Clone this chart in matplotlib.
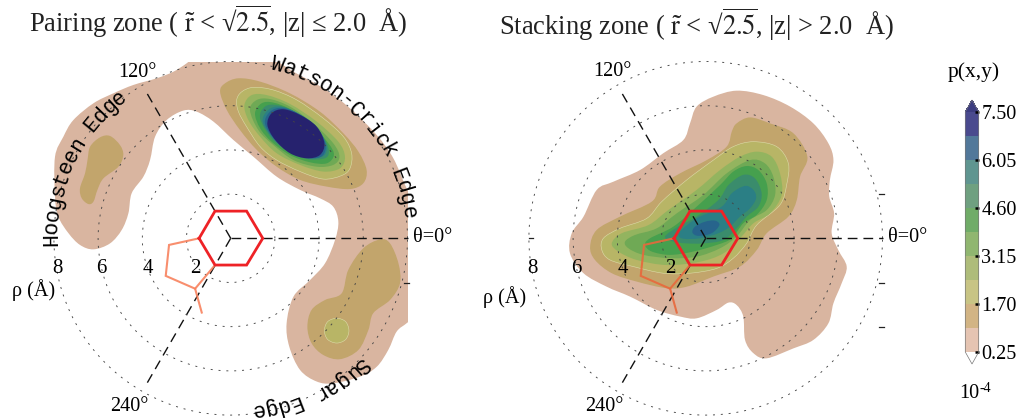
import numpy as np
import matplotlib
matplotlib.use('Agg')
import matplotlib.pyplot as plt
from matplotlib.path import Path
from matplotlib.patches import PathPatch
from matplotlib.colors import ListedColormap, BoundaryNorm
from matplotlib.cm import ScalarMappable

plt.rcParams['font.family'] = ['Liberation Serif', 'DejaVu Serif']
plt.rcParams['mathtext.fontset'] = 'stix'

# contour outlines, x,y in angstrom
pair_l1 = [(-1.39,8.37),(0.12,8.67),(1.48,8.37),(2.84,7.54),(4.19,6.79),(5.40,5.88),(6.61,4.67),(7.36,3.62),
           (7.96,2.26),(8.64,0.98),(8.94,-1.28),(8.64,-3.24),(7.99,-3.82),(7.51,-4.22),(7.13,-5.05),(6.61,-5.81),
           (5.85,-6.26),(4.64,-6.56),(3.89,-6.48),(3.14,-5.96),(2.65,-4.90),(2.53,-3.85),(2.84,-2.64),(3.59,-1.89),
           (4.27,-1.13),(4.72,-0.08),(4.87,0.75),(4.64,1.43),(4.04,1.81),(3.14,2.19),(2.08,2.79),(1.03,3.69),
           (0.12,4.45),(-0.78,5.28),(-1.54,5.73),(-2.14,5.78),(-2.90,5.35),(-3.42,4.60),(-3.65,3.54),(-3.95,2.79),
           (-4.48,2.04),(-4.63,1.13),(-4.93,0.38),(-5.46,-0.23),(-6.21,-0.50),(-6.82,-0.30),(-7.34,0.23),(-7.80,0.98),
           (-7.95,1.89),(-7.95,3.69),(-7.57,4.60),(-7.12,5.35),(-6.21,6.11),(-5.31,6.56),(-4.40,6.94),(-3.35,7.24),
           (-2.59,7.54),(-1.99,7.92)]
pair_wc2 = [(-0.48,6.63),(-0.26,7.01),(0.35,7.24),(1.33,7.09),(2.68,6.56),(4.04,5.73),(5.10,4.75),(5.78,3.92),
            (6.15,3.09),(6.00,2.49),(5.40,2.23),(4.34,2.34),(3.14,2.64),(2.08,3.24),(1.18,4.00),(0.42,4.90),(-0.18,5.81)]
pair_hg2 = [(-6.36,4.15),(-5.91,4.57),(-5.46,4.63),(-5.01,4.22),(-4.86,3.77),(-5.08,3.24),(-5.76,2.71),(-6.03,2.19),
            (-6.21,1.66),(-6.44,1.55),(-6.74,1.81),(-6.82,2.26),(-6.59,2.94),(-6.48,3.54)]
pair_su2 = [(6.76,-0.05),(7.21,-0.23),(7.59,-1.13),(7.66,-2.04),(7.21,-2.79),(6.45,-3.39),(6.23,-4.15),(5.78,-5.05),
            (4.95,-5.47),(4.19,-5.28),(3.66,-4.75),(3.47,-4.00),(3.66,-3.24),(4.27,-2.79),(5.02,-2.49),(5.32,-1.43),(6.00,-0.45)]
pair_su3 = [(4.80,-3.62),(5.20,-3.77),(5.35,-4.18),(5.20,-4.58),(4.80,-4.74),(4.39,-4.58),(4.24,-4.18),(4.39,-3.77)]
pair_wc3 = [(0.27,6.26),(0.50,6.63),(1.03,6.83),(1.93,6.71),(2.99,6.26),(4.19,5.43),(5.10,4.60),(5.47,3.85),
            (5.40,3.17),(5.02,2.84),(4.19,2.68),(3.14,3.02),(2.08,3.54),(1.33,4.15),(0.72,5.05),(0.35,5.73)]
pair_wc4 = [(0.62,6.03),(0.95,6.48),(1.63,6.48),(2.68,6.08),(3.89,5.28),(4.87,4.37),(5.17,3.69),(4.95,3.17),
            (4.19,3.02),(3.14,3.32),(2.08,3.85),(1.33,4.60),(0.80,5.35)]
pair_wc5 = [(0.87,5.81),(1.18,6.26),(1.78,6.30),(2.68,5.96),(3.74,5.20),(4.64,4.30),(4.92,3.69),(4.64,3.32),
            (3.89,3.24),(2.84,3.54),(1.93,4.22),(1.25,4.90)]
pair_wc6 = [(1.10,5.66),(1.40,6.11),(1.93,6.14),(2.76,5.81),(3.66,5.13),(4.42,4.30),(4.67,3.77),(4.34,3.39),
            (3.59,3.44),(2.68,3.77),(1.85,4.37),(1.33,4.98)]
pair_wc7 = [(1.33,5.43),(1.55,5.96),(2.08,6.03),(2.84,5.76),(3.74,5.13),(4.34,4.30),(4.42,3.77),(4.12,3.59),
            (3.44,3.59),(2.61,3.92),(1.85,4.52)]
pair_wc8 = [(1.45,5.28),(1.70,5.81),(2.23,5.96),(2.96,5.70),(3.82,5.10),(4.31,4.30),(4.27,3.80),(3.89,3.65),
            (3.29,3.66),(2.61,4.00),(1.93,4.52)]
pair_wc9 = [(1.55,5.20),(1.78,5.73),(2.31,5.90),(3.06,5.64),(3.86,5.08),(4.28,4.30),(4.16,3.74),(3.59,3.62),
            (2.84,3.85),(2.01,4.45)]
pair_wc10 = [(1.66,5.13),(1.85,5.66),(2.38,5.84),(3.14,5.58),(3.89,5.05),(4.24,4.30),(4.04,3.77),(3.44,3.62),
             (2.68,3.85),(2.01,4.45)]

stack_l1 = [(1.40,6.68),(2.61,6.48),(3.82,5.96),(4.87,5.20),(5.55,4.30),(5.78,3.54),(5.62,2.64),(5.59,1.89),
            (5.81,1.13),(5.70,0.23),(6.00,-0.53),(6.38,-1.28),(6.15,-2.04),(5.78,-2.94),(5.55,-3.85),(4.87,-4.60),
            (3.97,-4.98),(2.76,-5.43),(2.16,-5.20),(1.78,-4.60),(1.70,-3.54),(1.40,-3.02),(1.03,-2.91),(0.50,-3.24),
            (-0.41,-3.62),(-1.16,-3.54),(-2.22,-3.24),(-3.42,-2.64),(-4.48,-2.19),(-5.53,-1.58),(-6.14,-0.68),(-6.06,0.23),
            (-5.53,0.98),(-4.93,2.19),(-4.18,2.56),(-2.97,3.09),(-1.92,3.85),(-1.01,4.45),(-0.71,5.20),(-0.41,5.96),(0.35,6.41)]
stack_l2 = [(1.40,5.20),(2.01,5.47),(2.91,5.20),(3.97,4.75),(4.60,3.69),(4.27,2.79),(4.12,1.73),(3.74,0.98),
            (2.76,0.23),(2.31,-0.53),(1.55,-1.28),(0.35,-1.73),(-0.86,-2.19),(-1.76,-2.26),(-3.12,-1.96),(-4.25,-1.58),
            (-5.01,-0.98),(-5.23,-0.38),(-4.93,0.38),(-3.88,0.98),(-2.44,1.66),(-2.07,2.34),(-1.16,2.94),(0.05,3.54),
            (0.95,4.15),(1.18,4.83)]
stack_l3 = [(2.16,4.37),(3.21,4.15),(3.74,3.39),(3.66,2.41),(3.36,1.51),(2.31,0.60),(1.85,-0.23),(1.25,-0.90),
            (0.50,-1.36),(-0.71,-1.58),(-1.92,-1.58),(-3.27,-1.28),(-4.33,-0.98),(-4.70,-0.53),(-4.63,0.0),(-3.88,0.45),
            (-2.67,0.90),(-1.99,1.66),(-0.86,2.64),(0.35,3.54),(1.25,4.15)]
stack_l4 = [(2.31,3.92),(2.99,3.69),(3.36,2.94),(3.44,1.96),(2.91,1.13),(2.16,0.68),(1.55,0.0),(0.80,-0.68),
            (-0.26,-1.06),(-1.76,-1.21),(-3.12,-0.98),(-3.95,-0.60),(-4.25,-0.23),(-3.80,0.23),(-2.59,0.60),(-1.69,1.28),
            (-0.41,2.19),(0.65,3.09),(1.55,3.69)]
stack_l5 = [(2.01,3.54),(2.68,3.39),(3.06,2.79),(3.14,1.96),(2.76,1.28),(2.01,0.83),(1.40,0.08),(0.65,-0.45),
            (-0.41,-0.83),(-1.61,-0.90),(-2.82,-0.75),(-3.50,-0.45),(-3.65,-0.15),(-3.20,0.15),(-2.22,0.45),(-1.31,1.13),
            (-0.11,1.96),(0.95,2.94)]
stack_l6 = [(1.85,3.27),(2.38,3.09),(2.76,2.49),(2.76,1.73),(2.31,1.06),(1.70,0.68),(1.18,0.0),(0.50,-0.30),
            (-0.56,-0.60),(-1.61,-0.75),(-2.44,-0.60),(-2.74,-0.30),(-2.52,0.0),(-1.46,0.53),(-0.41,1.43),(0.65,2.41),(1.25,3.02)]
stack_l7 = [(1.70,2.87),(2.23,2.71),(2.53,2.04),(2.38,1.43),(1.85,0.98),(1.40,0.45),(0.80,-0.08),(-0.11,-0.23),
            (-0.86,-0.23),(-1.46,-0.15),(-1.84,0.08),(-1.24,0.53),(-0.41,0.98),(0.57,1.73),(1.03,2.41)]
stack_l8 = [(1.78,2.37),(2.16,2.19),(2.28,1.81),(2.01,1.36),(1.55,0.98),(1.10,0.53),(0.57,0.23),(-0.26,0.0),
            (-1.09,0.0),(-1.16,0.30),(-0.41,0.90),(0.72,1.43),(1.18,2.04)]
stack_l9 = [(0.42,0.80),(0.62,0.60),(0.27,0.23),(-0.33,0.11),(-0.60,0.26),(-0.48,0.53),(-0.03,0.75)]

# base rings
hexagon = [(-1.43,0.0),(-0.71,1.23),(0.72,1.23),(1.45,0.0),(0.72,-1.21),(-0.71,-1.21)]
pentagon = [(-1.43,0.0),(-2.79,-0.30),(-2.94,-1.70),(-1.61,-2.28),(-0.71,-1.21)]
glyco_bond = [(-1.61,-2.28),(-1.31,-3.36)]

rho_rings = [2, 4, 6, 8]
ray_angles = [0, 120, 240]
ray_lengths = [8.0, 7.65, 7.65]
rho_labels = ['2', '4', '6', '8']
rho_label_x = [-1.61, -3.73, -5.84, -7.83]
edge_stubs = [(8.0, -2.0)]
stack_stubs = [(8.0, 2.0), (8.0, -2.0), (8.0, -4.0), (-8.0, 0.0)]

levels = [0.25, 0.975, 1.70, 2.425, 3.15, 3.875, 4.60, 5.325, 6.05, 6.775, 7.50]
cbar_ticks = [0.25, 1.70, 3.15, 4.60, 6.05, 7.50]
plot_colors = ['#d9b5a0', '#c2a56c', '#b8b566', '#93b45f', '#6fa955', '#46a04e', '#3a8c6c', '#2b7f85', '#27648c', '#26226e']
cbar_colors = ['#e5c4b2', '#d2b484', '#c8c484', '#aebc7a', '#90b670', '#70ac68', '#6fa080', '#5f9590', '#52789a', '#4a4a8e']

W, H = 1016, 418
SCALE = 22.1
LIGHT_EDGE = '#dcdcaa'


def smooth_path(pts):
    # closed catmull-rom through the traced points
    p = np.array(pts, dtype=float)
    n = len(p)
    verts = [p[0]]
    codes = [Path.MOVETO]
    for i in range(n):
        p0, p1, p2, p3 = p[i-1], p[i], p[(i+1) % n], p[(i+2) % n]
        verts += [p1 + (p2-p0)/6, p2 - (p3-p1)/6, p2]
        codes += [Path.CURVE4]*3
    return Path(verts, codes)


def fill(ax, pts, level, edge=None):
    ax.add_patch(PathPatch(smooth_path(pts), facecolor=plot_colors[level-1],
                           edgecolor=edge if edge else 'none', lw=0.4 if edge else 0, zorder=level))


def make_axes(fig, cx, cy):
    half = 8*SCALE
    ax = fig.add_axes([(cx-half)/W, (H-cy-half)/H, 2*half/W, 2*half/H])
    ax.set_xlim(-8, 8)
    ax.set_ylim(-8, 8)
    ax.axis('off')
    return ax


def frame(ax, pent_color):
    t = np.radians(np.arange(0, 361, 2))
    for r in rho_rings:
        ax.plot(r*np.cos(t), r*np.sin(t), color='#444444', lw=0.65, ls=(0, (2.2, 6.5)), clip_on=False, zorder=20)
    for a, length in zip(ray_angles, ray_lengths):
        ax.plot([0, length*np.cos(np.radians(a))], [0, length*np.sin(np.radians(a))],
                color='#111111', lw=1.0, ls=(0, (7, 4.3)), clip_on=False, zorder=21)
    px, py = zip(*pentagon)
    ax.plot(px, py, color=pent_color, lw=1.5, alpha=0.9, zorder=22, solid_joinstyle='miter')
    bx, by = zip(*glyco_bond)
    ax.plot(bx, by, color=pent_color, lw=1.5, alpha=0.9, zorder=22)
    hx, hy = zip(*(hexagon + hexagon[:1]))
    ax.plot(hx, hy, color='#ee2226', lw=2.0, zorder=23, solid_joinstyle='miter')
    for s, x in zip(rho_labels, rho_label_x):
        ax.text(x, -1.36, s, fontsize=15, ha='center', va='center', zorder=30, clip_on=False)


def arc_text(ax, s, start, step=4.15, r=8.1, r_end=None):
    # one letter at a time, clockwise, tops facing out
    if r_end is None:
        r_end = r
    for i, ch in enumerate(s):
        a = start - i*step
        ri = r + (r_end-r)*i/(len(s)-1)
        ax.text(ri*np.cos(np.radians(a)), ri*np.sin(np.radians(a)), ch, family='Liberation Mono', fontsize=15.5,
                rotation=a-90, rotation_mode='anchor', ha='center', va='center', zorder=30, clip_on=False)


def stubs(ax, items):
    for x, y in items:
        ax.plot([x-0.15, x+0.05] if x > 0 else [x, x+0.2], [y, y], color='#222222', lw=0.9, clip_on=False, zorder=21)


def main():
    fig = plt.figure(figsize=(W/100, H/100), dpi=100)

    ax = make_axes(fig, 230.7, 238.3)
    fill(ax, pair_l1, 1)
    for pts in [pair_wc2, pair_hg2, pair_su2]:
        fill(ax, pts, 2)
    fill(ax, pair_su3, 3, LIGHT_EDGE)
    fill(ax, pair_wc3, 3, LIGHT_EDGE)
    for i, pts in enumerate([pair_wc4, pair_wc5, pair_wc6, pair_wc7, pair_wc8, pair_wc9, pair_wc10]):
        fill(ax, pts, i+4)
    frame(ax, '#f8825e')
    stubs(ax, edge_stubs)
    arc_text(ax, 'Watson-Crick Edge', 74.8)
    arc_text(ax, 'Hoogsteen Edge', 180.5, step=4.0)
    arc_text(ax, 'Sugar Edge', -44.0, r=8.2, r_end=7.82)
    ax.text(8.27, 0.05, 'θ=0°', fontsize=14.5, ha='left', va='center', clip_on=False)
    ax.text(-4.21, 7.51, '120°', fontsize=14.5, ha='center', va='center', clip_on=False)
    ax.text(-4.59, -7.62, '240°', fontsize=14.5, ha='center', va='center', clip_on=False)
    ax.text(-8.93, -2.34, 'ρ (Å)', fontsize=14.5, ha='center', va='center', clip_on=False)

    ax2 = make_axes(fig, 705.7, 238.3)
    for i, pts in enumerate([stack_l1, stack_l2, stack_l3, stack_l4, stack_l5, stack_l6, stack_l7, stack_l8, stack_l9]):
        fill(ax2, pts, i+1, LIGHT_EDGE if i == 2 else None)
    frame(ax2, '#e8683c')
    stubs(ax2, stack_stubs)
    ax2.text(8.27, 0.05, 'θ=0°', fontsize=14.5, ha='left', va='center', clip_on=False)
    ax2.text(-4.21, 7.54, '120°', fontsize=14.5, ha='center', va='center', clip_on=False)
    ax2.text(-4.59, -7.6, '240°', fontsize=14.5, ha='center', va='center', clip_on=False)
    ax2.text(-9.08, -2.68, 'ρ (Å)', fontsize=14.5, ha='center', va='center', clip_on=False)

    fig.text(29/W, 1-22/H, 'Pairing zone ( $\\tilde{\\mathrm{r}}$ < √$\\overline{\\mathrm{2.5}}$, |z| ≤ 2.0  Å)',
             fontsize=19.1, va='center', ha='left', color='#222222')
    fig.text(499/W, 1-25/H, 'Stacking zone ( $\\tilde{\\mathrm{r}}$ < √$\\overline{\\mathrm{2.5}}$, |z| > 2.0  Å)',
             fontsize=19.1, va='center', ha='left', color='#222222')

    # colorbar
    cax = fig.add_axes([965.3/W, (H-364)/H, 13.4/W, 264/H])
    cmap = ListedColormap(cbar_colors)
    cmap.set_over('#3c3c80')
    cmap.set_under('white')
    norm = BoundaryNorm(levels, cmap.N, clip=False)
    cb = fig.colorbar(ScalarMappable(norm=norm, cmap=cmap), cax=cax, extend='both', extendfrac=0.05,
                      spacing='proportional', ticks=cbar_ticks, drawedges=False)
    cb.outline.set_linewidth(0.5)
    cb.outline.set_edgecolor('#777777')
    cb.ax.minorticks_off()
    cb.ax.tick_params(axis='y', direction='in', length=3, width=1.8, pad=2, labelsize=14.5, color='black')
    cb.ax.set_yticklabels(['%.2f' % v for v in cbar_ticks])
    fig.text(974/W, 1-72/H, 'p(x,y)', fontsize=15.5, ha='center', va='center')
    fig.text(969/W, 1-393/H, '10', fontsize=14.5, ha='center', va='center')
    fig.text(985/W, 1-389/H, '-4', fontsize=10, ha='center', va='center')

    fig.savefig('out.png', dpi=100)


if __name__ == '__main__':
    main()
